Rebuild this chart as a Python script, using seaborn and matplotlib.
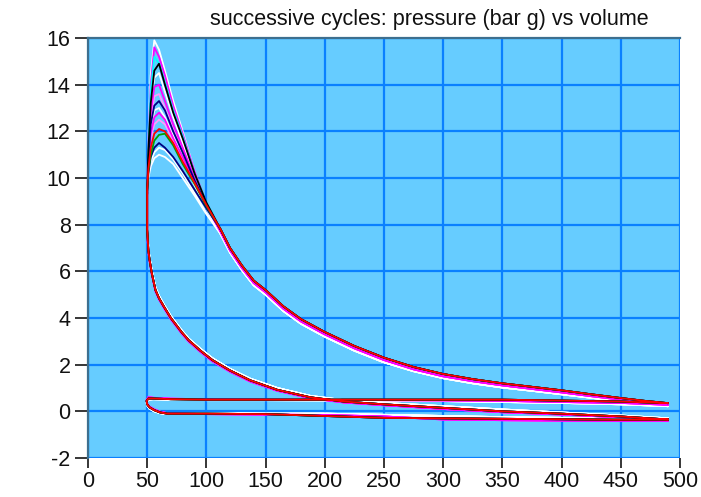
import matplotlib
matplotlib.use("Agg")
import matplotlib.pyplot as plt
import seaborn as sns
import pandas as pd

# ---- data -----------------------------------------------------------------
# compression stroke, bottom dead centre -> top dead centre (three traces)
compression_volume = [490, 450, 400, 350, 300, 250, 216, 188, 160, 137, 120,
                      105, 95, 85, 79, 70, 64, 60, 57, 54, 52, 51, 50, 50]
compression_pressure_a = [-0.35, -0.22, -0.1, 0.0, 0.15, 0.3, 0.42, 0.6, 0.92,
                          1.33, 1.75, 2.2, 2.6, 3.05, 3.4, 4.0, 4.5, 4.85, 5.2,
                          5.9, 6.5, 6.9, 7.8, 9.4]
compression_pressure_b = [-0.3, -0.18, -0.05, 0.08, 0.22, 0.36, 0.48, 0.66, 1.0,
                          1.4, 1.82, 2.28, 2.68, 3.12, 3.48, 4.08, 4.58, 4.95,
                          5.3, 6.0, 6.6, 7.0, 7.9, 9.4]
compression_pressure_c = [-0.4, -0.26, -0.14, -0.04, 0.1, 0.26, 0.38, 0.56, 0.88,
                          1.28, 1.7, 2.15, 2.55, 3.0, 3.35, 3.95, 4.45, 4.8,
                          5.15, 5.85, 6.45, 6.85, 7.7, 9.3]

# combustion around top dead centre, one trace per cycle
combustion_volume = [50, 51, 53, 56, 60, 65, 72, 80, 90, 100, 112]
combustion_pressure = {
    "c01": [9.5, 11.8, 14.4, 15.9, 15.5, 14.6, 13.3, 12.0, 10.3, 8.85, 7.6],
    "c02": [9.5, 11.5, 14.0, 15.6, 15.2, 14.4, 13.1, 11.9, 10.3, 8.9, 7.7],
    "c03": [9.5, 11.4, 13.8, 15.2, 14.9, 14.1, 12.9, 11.8, 10.2, 8.95, 7.8],
    "c04": [9.5, 11.2, 13.2, 14.6, 14.9, 14.0, 12.8, 11.7, 10.2, 8.95, 7.8],
    "c05": [9.4, 11.0, 13.0, 14.3, 14.5, 13.7, 12.6, 11.5, 10.0, 8.75, 7.6],
    "c06": [9.5, 10.9, 12.8, 13.9, 14.0, 13.3, 12.3, 11.3, 10.0, 8.8, 7.7],
    "c07": [9.4, 10.8, 12.5, 13.5, 13.6, 13.0, 12.1, 11.2, 9.9, 8.8, 7.7],
    "c08": [9.4, 10.7, 12.3, 13.1, 13.3, 12.9, 12.0, 11.1, 9.9, 8.85, 7.8],
    "c09": [9.4, 10.6, 12.1, 12.9, 13.0, 12.6, 11.8, 10.9, 9.7, 8.7, 7.6],
    "c10": [9.5, 10.6, 11.9, 12.6, 12.8, 12.5, 11.7, 10.9, 9.8, 8.8, 7.7],
    "c11": [9.4, 10.5, 11.7, 12.3, 12.5, 12.3, 11.6, 10.8, 9.8, 8.8, 7.7],
    "c12": [9.5, 10.4, 11.3, 11.9, 12.1, 12.0, 11.5, 10.7, 9.8, 8.85, 7.8],
    "c13": [9.4, 10.3, 11.0, 11.6, 11.85, 11.9, 11.4, 10.6, 9.75, 8.8, 7.8],
    "c14": [9.3, 10.2, 10.9, 11.3, 11.5, 11.3, 10.9, 10.3, 9.5, 8.7, 7.8],
    "c15": [9.3, 10.1, 10.7, 11.1, 11.3, 11.2, 10.8, 10.2, 9.35, 8.5, 7.6],
    "c16": [9.3, 10.0, 10.5, 10.85, 11.0, 10.9, 10.6, 10.0, 9.25, 8.45, 7.6],
}

# expansion stroke down to bottom dead centre (three traces)
expansion_volume = [112, 120, 130, 140, 150, 165, 180, 200, 225, 250, 275,
                    300, 325, 350, 375, 400, 425, 450, 470, 490]
expansion_pressure_a = [7.8, 7.0, 6.25, 5.6, 5.2, 4.5, 3.95, 3.4, 2.8, 2.3, 1.9,
                        1.6, 1.38, 1.2, 1.05, 0.9, 0.73, 0.57, 0.45, 0.35]
expansion_pressure_b = [7.6, 6.8, 6.05, 5.4, 5.0, 4.3, 3.75, 3.2, 2.6, 2.1, 1.72,
                        1.42, 1.2, 1.02, 0.88, 0.73, 0.58, 0.43, 0.32, 0.22]
expansion_pressure_c = [7.7, 6.9, 6.15, 5.5, 5.1, 4.4, 3.85, 3.3, 2.7, 2.2, 1.8,
                        1.5, 1.29, 1.11, 0.96, 0.81, 0.65, 0.5, 0.38, 0.28]

# exhaust stroke and valve overlap (three traces)
exhaust_volume = [490, 450, 400, 350, 300, 250, 200, 150, 100, 70, 55, 51,
                  49.5, 50, 52, 56, 61, 67]
exhaust_pressure_a = [0.35, 0.42, 0.46, 0.5, 0.5, 0.5, 0.5, 0.5, 0.5, 0.52,
                      0.55, 0.55, 0.45, 0.3, 0.17, 0.05, -0.05, -0.1]
exhaust_pressure_b = [0.22, 0.3, 0.36, 0.4, 0.44, 0.46, 0.47, 0.48, 0.48,
                      0.5, 0.52, 0.5, 0.4, 0.25, 0.12, 0.0, -0.08, -0.12]
exhaust_pressure_c = [0.28, 0.36, 0.4, 0.45, 0.47, 0.48, 0.49, 0.5, 0.52,
                      0.54, 0.58, 0.6, 0.48, 0.32, 0.2, 0.08, -0.02, -0.08]

# intake stroke (three traces)
intake_volume = [67, 100, 150, 200, 250, 300, 350, 400, 450, 490]
intake_pressure_a = [-0.1, -0.1, -0.12, -0.2, -0.28, -0.3, -0.32, -0.34, -0.36, -0.35]
intake_pressure_b = [-0.12, -0.08, -0.1, -0.1, -0.15, -0.2, -0.25, -0.28, -0.3, -0.3]
intake_pressure_c = [-0.08, -0.12, -0.14, -0.16, -0.22, -0.35, -0.38, -0.4, -0.42, -0.4]

cycle_names = list(combustion_pressure.keys())
cycle_colors = ["#ffffff", "#ff00ff", "#00ffff", "#000000", "#ffffff",
                "#ff00ff", "#ff99ff", "#000080", "#ffffff", "#ff00ff",
                "#ff99ff", "#ff0000", "#00a000", "#000080", "#ffffff",
                "#ffffff"]
# which trace each cycle follows outside the combustion phase
cycle_trace = ["b", "c", "a", "a", "b", "c", "c", "a", "b", "c",
               "c", "a", "a", "a", "b", "b"]

# draw order: pale traces first, dark ones on top
draw_order = ["c01", "c05", "c09", "c15", "c16", "c07", "c11", "c02", "c06",
              "c10", "c03", "c14", "c08", "c13", "c04", "c12"]

TITLE = "successive cycles: pressure (bar g) vs volume"

# ---- build the long table ------------------------------------------------
traces = {
    "a": (compression_pressure_a, expansion_pressure_a,
          exhaust_pressure_a, intake_pressure_a),
    "b": (compression_pressure_b, expansion_pressure_b,
          exhaust_pressure_b, intake_pressure_b),
    "c": (compression_pressure_c, expansion_pressure_c,
          exhaust_pressure_c, intake_pressure_c),
}
rows = []
for name, trace in zip(cycle_names, cycle_trace):
    comp_p, exp_p, exh_p, int_p = traces[trace]
    vols = (compression_volume + combustion_volume[:-1] + expansion_volume
            + exhaust_volume + intake_volume)
    pres = (comp_p + combustion_pressure[name][:-1] + exp_p + exh_p + int_p)
    for i, (v, p) in enumerate(zip(vols, pres)):
        rows.append({"cycle": name, "step": i, "volume": v, "pressure": p})
df = pd.DataFrame(rows)
palette = dict(zip(cycle_names, cycle_colors))

# ---- figure ---------------------------------------------------------------
sns.set_theme(style="white")
plt.rcParams["font.family"] = ["Liberation Sans", "DejaVu Sans"]
plt.rcParams["axes.unicode_minus"] = False

fig = plt.figure(figsize=(7.01, 4.97), dpi=100, facecolor="white")
ax = fig.add_axes([0.1255, 0.0785, 0.8445, 0.845])
ax.set_facecolor("#66ccff")

sns.lineplot(data=df, x="volume", y="pressure", hue="cycle",
             hue_order=draw_order, palette=palette, sort=False,
             estimator=None, legend=False, linewidth=1.3, ax=ax)

ax.set_xlim(0, 500)
ax.set_ylim(-2, 16)
ax.set_xticks(range(0, 501, 50))
ax.set_yticks(range(-2, 17, 2))
ax.set_xlabel("")
ax.set_ylabel("")
ax.grid(True, color="#0a80ff", linewidth=1.6)
ax.set_axisbelow(True)

for side in ("right", "bottom"):
    ax.spines[side].set_visible(False)
for side in ("left", "top"):
    ax.spines[side].set_color("#3d6f8f")
    ax.spines[side].set_linewidth(1.6)

fs = 15.5
ax.tick_params(axis="x", direction="out", length=7.5, width=1.1,
               color="black", labelsize=fs, pad=2, bottom=True)
ax.tick_params(axis="y", direction="out", length=9.5, width=1.1,
               color="black", labelsize=fs, pad=3, left=True)
for lab in ax.get_xticklabels() + ax.get_yticklabels():
    lab.set_color("#111111")

fig.text(0.612, 1 - 20 / 497, TITLE, ha="center", va="center",
         fontsize=fs, color="#111111")

fig.savefig("out.png", dpi=100, facecolor="white")
